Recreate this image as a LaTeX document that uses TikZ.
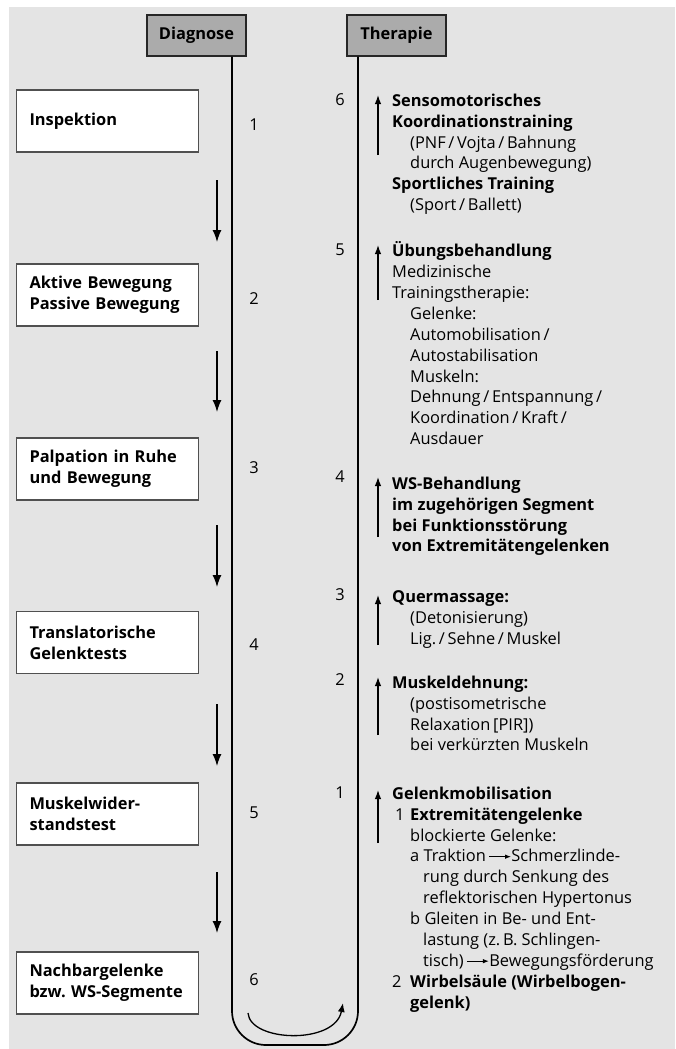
\documentclass[tikz,border=0pt]{standalone}
\usepackage{fontspec}
\setmainfont{Open Sans}
\usetikzlibrary{arrows.meta}
\definecolor{bggray}{HTML}{E4E4E4}
\definecolor{hdrgray}{HTML}{ABABAB}
\definecolor{boxedge}{HTML}{505050}
\newcommand{\fs}{\fontsize{16.4pt}{20.9pt}\selectfont\frenchspacing}
\newcommand{\ia}{\hspace*{18pt}}
\newcommand{\ib}{\hspace*{31pt}}
\newcommand{\txtarr}{\,\tikz[baseline=-0.6ex]\draw[line width=0.9pt,-{Latex[length=6pt,width=4.5pt]}](0pt,0pt)--(22pt,0pt);}
\tikzset{
  hdr/.style={draw=black!85, line width=1.2pt, fill=hdrgray, minimum width=99pt, minimum height=41pt, inner sep=0pt, font=\fs\bfseries},
  lbox/.style={draw=boxedge, line width=1.3pt, fill=white, minimum height=62pt, text width=156pt, inner xsep=13pt, inner ysep=0pt, align=left, font=\fs\bfseries},
  num/.style={inner sep=0pt, font=\fs},
  item/.style={anchor=north west, inner sep=0pt, align=left, font=\fs},
  downarr/.style={line width=1.3pt, -{Latex[length=12pt,width=9pt]}},
  uparr/.style={line width=1.3pt, -{Latex[length=9pt,width=6.5pt]}},
  mainline/.style={line width=1.7pt},
}
\begin{document}
\begin{tikzpicture}[x=1pt,y=-1pt]
\useasboundingbox (0,0) rectangle (675,1049);
\fill[bggray] (9,7) rectangle (675,1049);

% headers
\node[hdr] (hdiag) at (196.5,35.5) {Diagnose};
\node[hdr] (hther) at (396.5,35.5) {Therapie};

% U-shaped main line
\draw[mainline, rounded corners=34pt] (hdiag.south -| 232,0) -- (232,1045) -- (358,1045) -- (hther.south -| 358,0);

% inner turning arrow
\coordinate (cs) at (248,1013);
\coordinate (ce) at (343,1003);
\draw[line width=1.3pt, -{Latex[length=9pt,width=7pt]}] (cs) .. controls (250,1042) and (335,1045) .. (ce);

% left boxes
\node[lbox] (b1) at (107.5,121) {Inspektion};
\node[lbox] (b2) at (107.5,295) {Aktive Bewegung\\Passive Bewegung};
\node[lbox] (b3) at (107.5,469) {Palpation in Ruhe\\und Bewegung};
\node[lbox] (b4) at (107.5,642.5) {Translatorische\\Gelenktests};
\node[lbox] (b5) at (107.5,814) {Muskelwider-\\standstest};
\node[lbox] (b6) at (107.5,983) {Nachbargelenke\\bzw. WS-Segmente};

% left down arrows
\foreach \i/\s/\e in {1/180/242, 2/351/412, 3/525/587, 4/704/766, 5/872/933}{
  \coordinate (d\i s) at (217,\s);
  \coordinate (d\i e) at (217,\e);
  \draw[downarr] (d\i s) -- (d\i e);
}

% left numbers
\node[num] (m1) at (254,125) {1};
\node[num] (m2) at (254,299) {2};
\node[num] (m3) at (254,468) {3};
\node[num] (m4) at (254,645) {4};
\node[num] (m5) at (254,813) {5};
\node[num] (m6) at (254,980) {6};

% right numbers
\node[num] (n6) at (340,100) {6};
\node[num] (n5) at (340,250) {5};
\node[num] (n4) at (340,477) {4};
\node[num] (n3) at (340,595) {3};
\node[num] (n2) at (340,680) {2};
\node[num] (n1) at (340,793) {1};

% right up arrows
\foreach \i/\s/\e in {6/155/95, 5/300/245, 4/537/477, 3/645/595, 2/735/677, 1/843/790}{
  \coordinate (u\i s) at (378,\s);
  \coordinate (u\i e) at (378,\e);
  \draw[uparr] (u\i s) -- (u\i e);
}

% right texts (north = first baseline - strut height 14.6)
\node[item] (r6) at (392,91.4) {\strut\textbf{Sensomotorisches}\\\textbf{Koordinationstraining}\\\ia(PNF\,/\,Vojta\,/\,Bahnung\\\ia durch Augenbewegung)\\\textbf{Sportliches Training}\\\ia(Sport\,/\,Ballett)};
\node[item] (r5) at (392,241.4) {\strut\textbf{Übungsbehandlung}\\Medizinische\\Trainingstherapie:\\\ia Gelenke:\\\ia Automobilisation\,/\\\ia Autostabilisation\\\ia Muskeln:\\\ia Dehnung\,/\,Entspannung\,/\\\ia Koordination\,/\,Kraft\,/\\\ia Ausdauer};
\node[item, font=\fs\bfseries] (r4) at (392,474.4) {\strut WS-Behandlung\\im zugehörigen Segment\\bei Funktionsstörung\\von Extremitätengelenken};
\node[item] (r3) at (392,587.4) {\strut\textbf{Quermassage:}\\\ia(Detonisierung)\\\ia Lig.\,/\,Sehne\,/\,Muskel};
\node[item] (r2) at (392,673.4) {\strut\textbf{Muskeldehnung:}\\\ia(postisometrische\\\ia Relaxation\,[PIR])\\\ia bei verkürzten Muskeln};
\node[item] (r1) at (392,784.4) {\strut\textbf{Gelenkmobilisation}\\\makebox[18pt][l]{\hspace{3pt}1}\textbf{Extremitätengelenke}\\\ia blockierte Gelenke:\\\ia a Traktion\txtarr Schmerzlinde-\\\ib rung durch Senkung des\\\ib reflektorischen Hypertonus\\\ia b Gleiten in Be- und Ent-\\\ib lastung (z.\,B. Schlingen-\\\ib tisch)\txtarr Bewegungsförderung\\\makebox[18pt][l]{2}\textbf{Wirbelsäule (Wirbelbogen-}\\\ia\textbf{gelenk)}};
\end{tikzpicture}
\end{document}
